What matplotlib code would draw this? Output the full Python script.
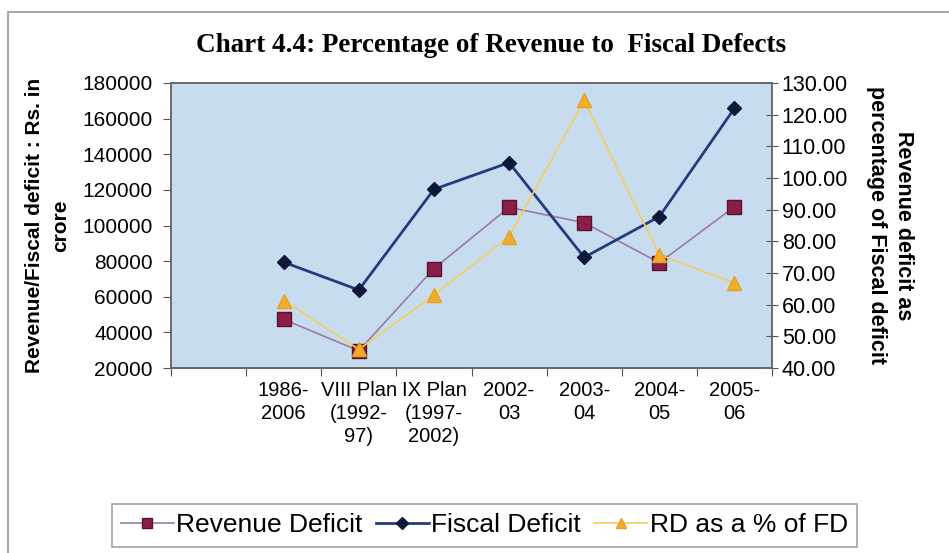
import matplotlib
matplotlib.use("Agg")
import matplotlib.pyplot as plt
from matplotlib.patches import Rectangle
import numpy as np

# DATA
categories = ['', '1986-\n2006', 'VIII Plan\n(1992-\n97)', 'IX Plan\n(1997-\n2002)',
              '2002-\n03', '2003-\n04', '2004-\n05', '2005-\n06']
revenue_deficit = [np.nan, 47300, 29700, 75800, 110200, 101600, 79100, 110500]
fiscal_deficit = [np.nan, 79400, 63800, 120300, 135300, 82100, 105000, 165800]
rd_pct_fd = [np.nan, 61.3, 45.9, 63.0, 81.5, 124.5, 75.8, 66.8]

left_ticks = np.arange(20000, 180001, 20000)
right_ticks = np.arange(40, 130.1, 10)

plt.rcParams['font.family'] = ['Liberation Sans', 'DejaVu Sans']

fig = plt.figure(figsize=(9.49, 5.53), dpi=100)
fig.patch.set_facecolor('white')

# outer chart border
fig.patches.append(Rectangle((8 / 949, -0.05), 1.1, (553 - 12) / 553 + 0.05,
                             transform=fig.transFigure, fill=False,
                             edgecolor='#9a9a9a', linewidth=1.2))

ax = fig.add_axes([171 / 949, (553 - 368) / 553, (772 - 171) / 949, (368 - 83) / 553])
ax.set_facecolor('#C8DCF0')
x = np.arange(len(categories))

l1, = ax.plot(x, revenue_deficit, color='#9B7BA6', lw=1.2, marker='s', ms=9.5,
              mfc='#8A1E46', mec='#5a1030', label='Revenue Deficit')
l2, = ax.plot(x, fiscal_deficit, color='#223C7C', lw=2.0, marker='D', ms=7.5,
              mfc='#0E1838', mec='#0E1838', label='Fiscal Deficit')
ax.set_ylim(20000, 180000)
ax.set_yticks(left_ticks)
ax.set_xlim(-0.5, len(categories) - 0.5)
ax.set_xticks(np.arange(-0.5, len(categories)), minor=False)
ax.set_xticklabels([])
ax.set_xticks(x, minor=True)
ax.set_xticklabels(categories, minor=True, fontsize=14.5, linespacing=1.3)
ax.tick_params(axis='x', which='minor', length=0, pad=9)
ax.tick_params(axis='x', which='major', length=6, direction='out', color='#555555')
ax.tick_params(axis='y', length=6, direction='out', labelsize=15, pad=7, color='#555555')
ax.set_ylabel('Revenue/Fiscal deficit : Rs. in\ncrore', fontsize=15,
              fontweight='bold', labelpad=9, linespacing=1.45)

ax2 = ax.twinx()
l3, = ax2.plot(x, rd_pct_fd, color='#F2CE5C', lw=1.2, marker='^', ms=9.5,
               mfc='#F0AE2C', mec='#E8A020', label='RD as a % of FD')
ax2.set_ylim(40, 130)
ax2.set_yticks(right_ticks)
ax2.set_yticklabels(['%.2f' % v for v in right_ticks])
ax2.tick_params(axis='y', length=8, direction='inout', labelsize=15.5, pad=3,
                color='#555555')
ax2.set_ylabel('Revenue deficit as\npercentage of Fiscal deficit', fontsize=15.5,
               fontweight='bold', rotation=270, va='bottom', labelpad=13,
               linespacing=1.35)

for a in (ax, ax2):
    for s in a.spines.values():
        s.set_color('#6a6a6a')
        s.set_linewidth(1.2)
ax.spines['bottom'].set_color('#404040')

fig.text(491 / 949, (553 - 46) / 553, 'Chart 4.4: Percentage of Revenue to  Fiscal Defects',
         ha='center', va='center', fontsize=19.5, fontweight='bold',
         family=['Liberation Serif', 'DejaVu Serif'])

leg = fig.legend(handles=[l1, l2, l3], loc='center', ncol=3,
                 bbox_to_anchor=(484.5 / 949, (553 - 525.5) / 553),
                 fontsize=19, frameon=True, fancybox=False, edgecolor='#8a8a8a',
                 handlelength=2.0, handletextpad=0.1, columnspacing=0.5,
                 borderpad=0.35, markerscale=0.8)
leg.get_frame().set_linewidth(1.2)

fig.savefig('out.png', dpi=100, facecolor='white')
